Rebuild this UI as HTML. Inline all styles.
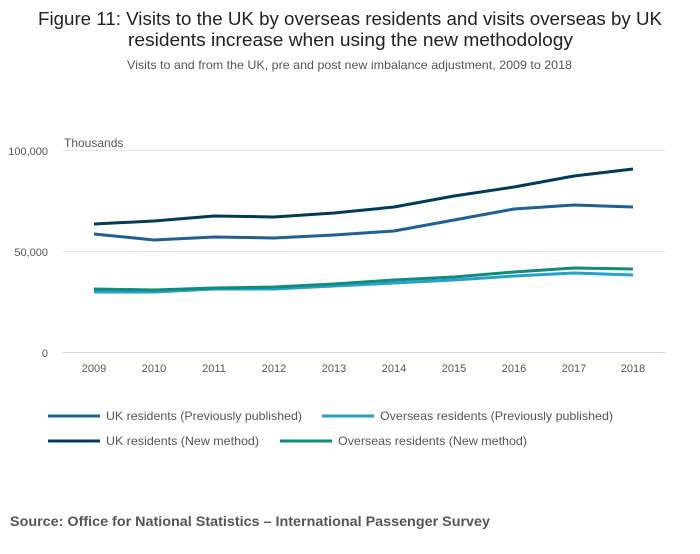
<!DOCTYPE html>
<html><head><meta charset="utf-8"><style>
body{margin:0;background:#fff;width:700px;height:549px;overflow:hidden;font-family:"Liberation Sans",sans-serif}
</style></head><body>
<svg width="700" height="549" xmlns="http://www.w3.org/2000/svg" font-family="Liberation Sans, sans-serif">
<text x="38" y="25" font-size="18" fill="#222" textLength="624" lengthAdjust="spacingAndGlyphs">Figure 11: Visits to the UK by overseas residents and visits overseas by UK</text>
<text x="128" y="46" font-size="18" fill="#222" textLength="445" lengthAdjust="spacingAndGlyphs">residents increase when using the new methodology</text>
<text x="127" y="69" font-size="12" fill="#555" textLength="445" lengthAdjust="spacingAndGlyphs">Visits to and from the UK, pre and post new imbalance adjustment, 2009 to 2018</text>
<text x="64" y="147" font-size="12" fill="#555">Thousands</text>
<g stroke="#e6e6e6" stroke-width="1">
<line x1="63" y1="150.5" x2="665" y2="150.5"/><line x1="63" y1="251.5" x2="665" y2="251.5"/>
</g>
<line x1="63" y1="352.5" x2="665" y2="352.5" stroke="#ccd6eb"/>
<g font-size="11" fill="#555" text-anchor="end">
<text x="48" y="155">100,000</text><text x="48" y="256">50,000</text><text x="48" y="357">0</text>
</g>
<g font-size="11" fill="#555" text-anchor="middle">
<text x="94" y="372">2009</text><text x="154" y="372">2010</text><text x="214" y="372">2011</text><text x="274" y="372">2012</text><text x="334" y="372">2013</text><text x="394" y="372">2014</text><text x="454" y="372">2015</text><text x="514" y="372">2016</text><text x="574" y="372">2017</text><text x="633" y="372">2018</text>
</g>
<g fill="none" stroke-width="3" stroke-linejoin="round">
<polyline stroke="#27a0cc" points="94,292 154,292 214,289 274,289 334,286 394,283 454,280 514,276 574,273 633,275"/>
<polyline stroke="#118c7b" points="94,289 154,290 214,288 274,287 334,284 394,280 454,277 514,272 574,268 633,269"/>
<polyline stroke="#206095" points="94,234 154,240 214,237 274,238 334,235 394,231 454,220 514,209 574,205 633,207"/>
<polyline stroke="#003c57" points="94,224 154,221 214,216 274,217 334,213 394,207 454,196 514,187 574,176 633,169"/>
</g>
<g stroke-width="3">
<line x1="48" y1="416" x2="100" y2="416" stroke="#206095"/>
<line x1="322" y1="416" x2="374" y2="416" stroke="#27a0cc"/>
<line x1="48" y1="441" x2="100" y2="441" stroke="#003c57"/>
<line x1="280" y1="441" x2="332" y2="441" stroke="#118c7b"/>
</g>
<g font-size="12" fill="#555">
<text x="106" y="420" textLength="196" lengthAdjust="spacingAndGlyphs">UK residents (Previously published)</text>
<text x="380" y="420" textLength="233" lengthAdjust="spacingAndGlyphs">Overseas residents (Previously published)</text>
<text x="106" y="445" textLength="153" lengthAdjust="spacingAndGlyphs">UK residents (New method)</text>
<text x="338" y="445" textLength="189" lengthAdjust="spacingAndGlyphs">Overseas residents (New method)</text>
</g>
<text x="10" y="526" font-size="14" font-weight="bold" fill="#555" textLength="480" lengthAdjust="spacingAndGlyphs">Source: Office for National Statistics – International Passenger Survey</text>
</svg>
</body></html>
